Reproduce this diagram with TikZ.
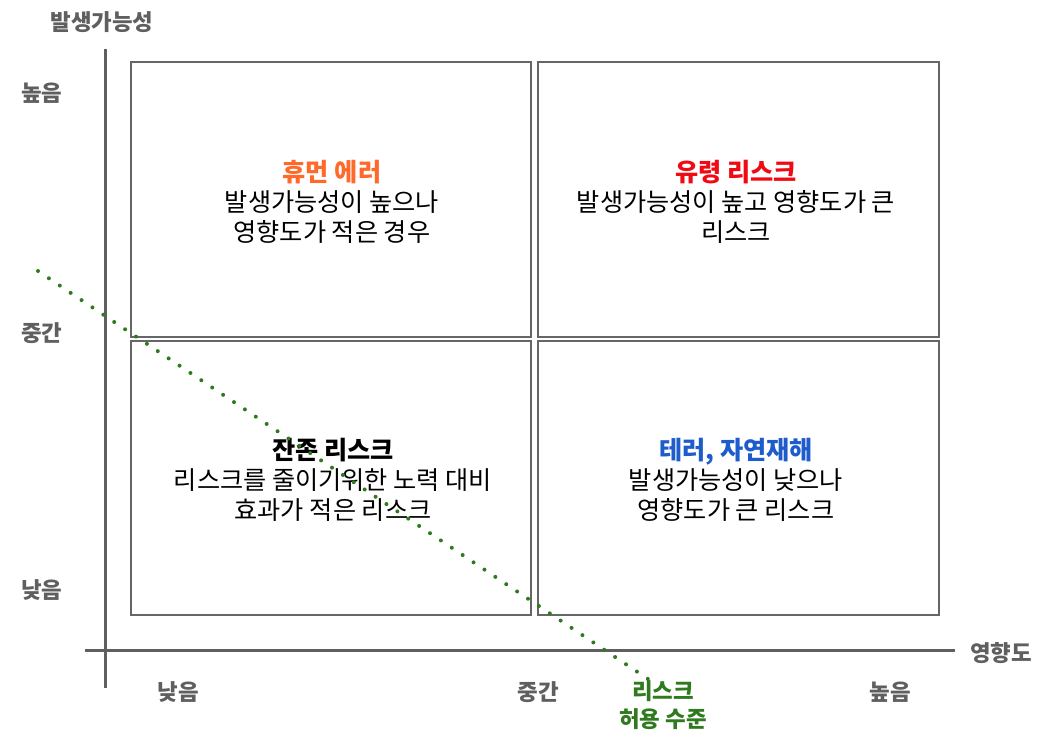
\documentclass[tikz,border=0pt]{standalone}
\usepackage{fontspec}
\setmainfont{Noto Sans CJK KR}
\usepackage{xcolor}
\definecolor{axisgray}{HTML}{5F5F5F}
\definecolor{boxgray}{HTML}{666666}
\definecolor{humanorange}{HTML}{FF6A2B}
\definecolor{ghostred}{HTML}{F00A14}
\definecolor{terrorblue}{HTML}{1E5CCC}
\definecolor{riskgreen}{HTML}{2F7A1F}
\tikzset{
  axislabel/.style={font=\fontsize{22.4}{26}\selectfont\bfseries, text=axisgray},
  quadtext/.style={font=\fontsize{25.2}{30}\selectfont, align=center},
  quadbox/.style={draw=boxgray, line width=1.4pt},
  axisline/.style={draw=axisgray, line width=3pt},
}
\begin{document}
\begin{tikzpicture}[x=1pt,y=-1pt]
        \useasboundingbox (0,0) rectangle (1050,752);
        % quadrants
        \draw[quadbox] (131,62) rectangle (531,337);
        \draw[quadbox] (538,62) rectangle (939,337);
        \draw[quadbox] (131,341) rectangle (531,615);
        \draw[quadbox] (538,341) rectangle (939,615);
        \node[quadtext] (human) at (332,202) {{\bfseries\color{humanorange}휴먼 에러}\\발생가능성이 높으나\\영향도가 적은 경우};
        \node[quadtext] (ghost) at (736,202) {{\bfseries\color{ghostred}유령 리스크}\\발생가능성이 높고 영향도가 큰\\리스크};
        \node[quadtext] (residual) at (333,480) {{\bfseries 잔존 리스크}\\리스크를 줄이기위한 노력 대비\\효과가 적은 리스크};
        \node[quadtext] (terror) at (736,480) {{\bfseries\color{terrorblue}테러, 자연재해}\\발생가능성이 낮으나\\영향도가 큰 리스크};
        % axes
        \draw[axisline] (105,49) -- (105,688);
        \draw[axisline] (85,650) -- (955,650);
        \node[axislabel] (ytitle) at (102,22) {발생가능성};
        \node[axislabel] (yhigh) at (42,93) {높음};
        \node[axislabel] (ymid) at (42,333) {중간};
        \node[axislabel] (ylow) at (42,590) {낮음};
        \node[axislabel] (xtitle) at (1001,653) {영향도};
        \node[axislabel] (xlow) at (178,692) {낮음};
        \node[axislabel] (xmid) at (538,692) {중간};
        \node[axislabel] (xhigh) at (890,692) {높음};
        \node[axislabel, text=riskgreen, align=center, font=\fontsize{22.4}{28}\selectfont\bfseries] (tolerance) at (663,705) {리스크\\허용 수준};
        % tolerance line
        \coordinate (tolstart) at (38,271);
        \coordinate (tolend) at (648,679);
        \draw[riskgreen, line width=4pt, line cap=round, dash pattern=on 0pt off 13.1pt] (tolstart) -- (tolend);
\end{tikzpicture}
\end{document}
